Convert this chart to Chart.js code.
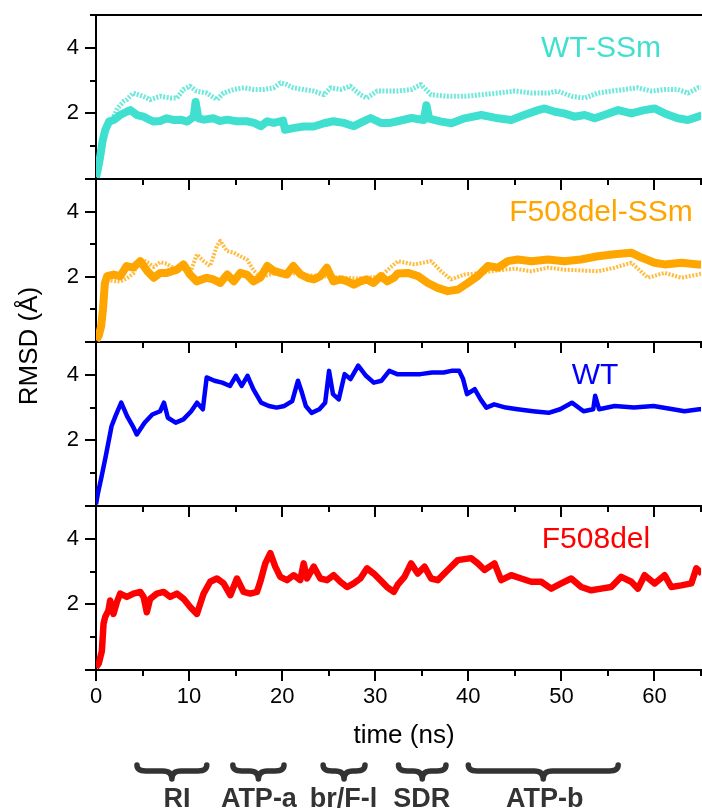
<!DOCTYPE html>
<html><head><meta charset="utf-8">
<script src="https://cdn.jsdelivr.net/npm/chart.js@4.4.1/dist/chart.umd.min.js"></script>
<style>
html,body{margin:0;padding:0;background:#fff;}
#wrap{position:relative;width:702px;height:809px;overflow:hidden;background:#fff;}
#wrap canvas{position:absolute;left:0;top:0;}
</style></head><body>
<div id="wrap">
<canvas id="c1" width="702" height="809"></canvas>
<canvas id="c2" width="702" height="809"></canvas>
<canvas id="c3" width="702" height="809"></canvas>
<canvas id="c4" width="702" height="809"></canvas>
</div>
<script>
// ---------- data ----------
const panelNames = ['WT-SSm', 'F508del-SSm', 'WT', 'F508del'];
const xLabelValues = [0, 10, 20, 30, 40, 50, 60];
const yLabelValues = [2, 4];
const xTitle = 'time (ns)';
const yTitle = 'RMSD (Å)';
const regionNames = ['RI', 'ATP-a', 'br/F-l', 'SDR', 'ATP-b'];
const regionStart = [4.4, 14.7, 24.4, 32.5, 40.0];
const regionEnd = [11.9, 20.2, 28.9, 37.6, 56.1];
const regionLabelAt = [8.7, 17.5, 26.6, 35.0, 48.2];

// WT-SSm, lower (solid) trace
const wtssmLowT = [0,0.2,0.4,0.7,1.0,1.4,1.9,2.6,3.3,3.7,4.4,5.1,5.8,6.2,6.9,7.6,8.3,9.1,9.8,10.5,10.7,11.0,11.6,12.6,13.3,14.1,15.1,16.2,17.0,17.7,18.4,19.1,19.8,20.1,20.3,21.2,22.3,23.4,24.5,25.5,26.6,27.7,28.4,29.5,30.6,31.6,32.4,33.9,35.2,35.5,35.8,37.1,38.2,39.6,41.4,43.2,44.6,46.0,47.5,48.2,49.3,50.3,51.4,52.5,53.6,54.6,56.1,57.5,58.9,60.0,61.1,62.5,63.6,64.7,65.1];
const wtssmLowV = [0.05,0.3,0.6,1.15,1.5,1.75,1.8,1.95,2.05,2.1,1.95,1.9,1.8,1.75,1.77,1.85,1.8,1.81,1.75,1.9,2.35,1.85,1.81,1.85,1.77,1.81,1.76,1.76,1.71,1.61,1.76,1.71,1.76,1.78,1.5,1.55,1.6,1.6,1.7,1.76,1.71,1.61,1.71,1.86,1.71,1.71,1.76,1.86,1.8,2.25,1.84,1.75,1.7,1.85,1.95,1.85,1.8,1.95,2.1,2.15,2.05,2.0,1.9,1.95,1.85,1.95,2.1,2.0,2.1,2.15,2.0,1.85,1.8,1.9,1.95];
// WT-SSm, upper (dotted) trace
const wtssmUpT = [1.9,2.3,3.0,3.3,4.0,5.1,5.8,6.9,8.0,8.7,9.4,10.1,10.8,11.9,13.0,13.7,14.8,15.9,16.9,18.0,19.1,19.8,20.5,21.2,22.3,23.4,24.5,25.2,26.3,27.3,28.4,29.1,30.2,31.3,32.4,33.9,34.9,36.0,37.8,39.6,41.4,43.2,45.0,46.8,48.6,49.6,51.1,52.5,53.9,55.4,56.8,58.2,59.7,61.1,62.5,63.6,64.7,65.1];
const wtssmUpV = [1.9,2.15,2.37,2.42,2.62,2.52,2.42,2.52,2.47,2.47,2.73,2.83,2.68,2.62,2.42,2.62,2.73,2.78,2.73,2.73,2.78,2.93,2.88,2.78,2.73,2.68,2.57,2.78,2.73,2.83,2.57,2.47,2.68,2.68,2.68,2.73,2.88,2.57,2.52,2.52,2.57,2.62,2.68,2.62,2.62,2.68,2.52,2.47,2.62,2.68,2.73,2.78,2.68,2.73,2.73,2.62,2.78,2.78];

// F508del-SSm, main (solid) trace
const f508ssmT = [0,0.3,0.55,0.75,0.95,1.2,1.9,2.6,3.3,4.0,4.75,5.5,6.2,6.9,7.6,8.7,9.4,10.1,10.8,11.9,12.6,13.35,14.1,14.8,15.5,16.2,16.9,17.65,18.4,19.1,19.8,20.5,21.2,22.0,22.7,23.4,24.1,24.8,25.5,26.3,27.0,27.7,28.4,29.1,29.8,30.6,31.3,32.0,32.4,33.5,34.6,35.65,36.7,37.8,38.9,39.95,41.0,42.1,43.2,44.25,45.3,46.8,48.55,50.3,52.1,53.9,55.7,57.5,58.6,60.0,61.1,62.9,64.7,65.1];
const f508ssmV = [0.05,0.2,0.48,1.0,1.8,2.02,2.07,2.02,2.33,2.28,2.48,2.18,1.97,2.12,2.12,2.22,2.38,2.07,1.86,1.97,1.92,1.81,2.07,1.86,2.12,2.07,1.86,1.97,2.33,2.18,2.12,2.07,2.33,2.07,1.97,1.92,2.02,2.28,1.86,1.92,1.86,1.76,1.86,1.92,1.81,2.02,1.86,1.97,2.1,2.12,2.02,1.81,1.66,1.56,1.61,1.81,2.02,2.33,2.28,2.48,2.53,2.48,2.53,2.48,2.53,2.63,2.69,2.74,2.59,2.43,2.38,2.43,2.38,2.38];
// F508del-SSm, second (dotted) trace
const f508ssm2T = [1.2,2.6,3.3,4.0,4.75,5.5,6.2,6.9,7.6,8.7,9.4,10.1,10.84,11.56,12.27,12.99,13.35,14.07,14.78,15.5,16.22,16.93,17.65,20.0,22.7,25.0,28.0,30.5,31.3,32.42,34.21,36.0,37.08,38.15,39.59,41.38,43.2,45.0,46.76,48.55,50.34,53.93,55.72,57.51,59.3,61.09,62.89,64.68,65.1];
const f508ssm2V = [1.9,1.85,1.95,2.1,2.55,2.45,2.3,2.45,2.4,2.2,2.3,2.1,2.69,2.48,2.33,2.95,3.1,2.79,2.74,2.63,2.53,2.2,2.0,2.15,2.05,2.0,1.95,2.0,2.2,2.48,2.38,2.48,2.17,1.92,2.07,2.12,2.2,2.25,2.17,2.28,2.22,2.17,2.28,2.43,1.97,2.12,1.97,2.07,2.1];

// WT
const wtT = [0,0.21,0.6,1.04,1.67,2.09,2.71,3.34,3.96,4.38,5.22,6.05,6.89,7.3,7.72,8.56,9.39,10.23,10.85,11.48,11.89,12.73,13.56,14.4,15.03,15.65,16.28,16.9,17.74,18.57,19.41,20.24,21.08,21.7,22.12,22.54,23.16,24.0,24.62,25.04,25.46,26.08,26.71,27.34,28.17,29.01,29.84,30.68,31.51,32.35,33.6,34.85,36.1,37.35,38.19,39.02,39.44,39.86,40.69,41.32,41.94,42.78,44.03,45.28,46.95,48.62,49.87,51.13,52.38,53.42,53.63,54.05,55.72,57.8,59.89,61.98,63.23,64.82,65.1];
const wtV = [0.05,0.39,0.9,1.51,2.43,2.74,3.15,2.74,2.43,2.18,2.54,2.79,2.89,3.15,2.69,2.54,2.64,2.89,3.15,2.95,3.92,3.82,3.76,3.66,3.97,3.66,3.97,3.56,3.15,3.05,3.0,3.05,3.2,3.82,3.46,3.05,2.84,2.95,3.15,4.12,3.41,3.25,4.02,3.87,4.28,3.97,3.76,3.82,4.12,4.02,4.02,4.02,4.07,4.07,4.12,4.12,3.87,3.41,3.56,3.25,3.0,3.1,3.0,2.95,2.89,2.84,2.95,3.15,2.89,2.95,3.36,2.95,3.05,3.0,3.05,2.95,2.89,2.95,2.95];

// F508del
const f508T = [0,0.3,0.63,0.81,0.98,1.34,1.52,1.88,2.24,2.6,3.31,4.03,4.75,5.11,5.46,5.82,6.54,7.26,7.97,8.69,9.41,10.12,10.84,11.56,12.27,12.99,13.71,14.43,15.14,15.86,16.58,17.29,17.65,18.19,18.73,19.26,19.8,20.52,21.24,21.95,22.31,22.67,23.39,24.1,24.82,25.54,26.25,26.97,27.69,28.4,29.12,29.84,30.55,31.27,31.99,32.42,33.14,33.85,34.57,35.29,36.0,36.72,37.8,38.87,40.3,41.02,41.74,42.81,43.53,44.61,45.68,46.76,47.83,48.91,49.98,51.06,52.13,53.21,54.28,55.36,56.43,57.51,58.23,58.94,60.02,61.09,61.81,62.89,63.96,64.5,65.1];
const f508V = [0.08,0.2,0.58,1.41,1.61,1.82,2.12,1.71,2.07,2.33,2.23,2.33,2.38,2.23,1.76,2.17,2.33,2.38,2.23,2.33,2.17,1.92,1.71,2.33,2.69,2.79,2.64,2.28,2.79,2.38,2.33,2.38,2.69,3.25,3.56,3.15,2.84,2.74,2.89,2.74,3.25,2.79,3.15,2.79,2.74,2.89,2.69,2.53,2.64,2.79,3.1,2.94,2.74,2.53,2.38,2.6,2.84,3.25,2.94,3.15,2.79,2.74,3.05,3.35,3.41,3.25,3.05,3.25,2.74,2.89,2.79,2.69,2.69,2.48,2.64,2.79,2.53,2.43,2.48,2.53,2.84,2.69,2.48,2.89,2.64,2.89,2.53,2.58,2.64,3.1,2.94];

// ---------- layout / style ----------
const FONT = "'Liberation Sans', Arial, Helvetica, sans-serif";
const H = 809;
const PLOT_LEFT = 96;
const panelTops = [15, 179, 342, 506];
const panelBottoms = [179, 342, 506, 670];
const panelColors = ['#40E0D0', '#FFA500', '#0000FF', '#FF0000'];
const labelPos = [[601, 57], [601, 221], [595, 384], [596, 548]];

function mkPoints(t, v) { return t.map((x, i) => ({ x: x, y: v[i] })); }

const deco = {
  id: 'deco',
  afterDraw(chart, args, o) {
    const ctx = chart.ctx, a = chart.chartArea, xs = chart.scales.x, ys = chart.scales.y;
    ctx.save();
    ctx.strokeStyle = '#000';
    ctx.lineWidth = 2;
    ctx.beginPath();
    xs.ticks.forEach(tk => {
      const px = Math.round(xs.getPixelForValue(tk.value));
      const len = (tk.value % 10 === 0) ? 11 : 6;
      ctx.moveTo(px, a.bottom); ctx.lineTo(px, a.bottom + len);
    });
    ys.ticks.forEach(tk => {
      const py = Math.round(ys.getPixelForValue(tk.value));
      const len = (tk.value % 2 === 0) ? 11 : 6;
      ctx.moveTo(a.left, py); ctx.lineTo(a.left - len, py);
    });
    if (o.topBorder) {
      const ty = Math.round(a.top);
      ctx.moveTo(a.left, ty); ctx.lineTo(a.right + 3, ty);
    }
    ctx.stroke();

    // panel label
    ctx.fillStyle = o.color;
    ctx.font = '30px ' + FONT;
    ctx.textAlign = 'center';
    ctx.textBaseline = 'alphabetic';
    ctx.fillText(o.label, o.labelX, o.labelY);

    if (o.extras) {
      ctx.fillStyle = '#000';
      ctx.font = '26px ' + FONT;
      ctx.textAlign = 'center';
      ctx.textBaseline = 'middle';
      ctx.fillText(xTitle, 404, 736);
      ctx.save();
      ctx.translate(30, 346);
      ctx.rotate(-Math.PI / 2);
      ctx.fillText(yTitle, 0, 0);
      ctx.restore();

      ctx.strokeStyle = '#333';
      ctx.fillStyle = '#333';
      ctx.lineWidth = 5.5;
      ctx.lineCap = 'round';
      ctx.lineJoin = 'round';
      regionNames.forEach((nm, k) => {
        const x1 = xs.getPixelForValue(regionStart[k]);
        const x2 = xs.getPixelForValue(regionEnd[k]);
        const xm = (x1 + x2) / 2;
        const y0 = 765, y1 = 771, y2 = 779;
        const r = Math.min(9, (x2 - x1) / 4);
        ctx.beginPath();
        ctx.moveTo(x1, y0);
        ctx.quadraticCurveTo(x1, y1, x1 + r, y1);
        ctx.lineTo(xm - r, y1);
        ctx.quadraticCurveTo(xm, y1, xm, y2);
        ctx.quadraticCurveTo(xm, y1, xm + r, y1);
        ctx.lineTo(x2 - r, y1);
        ctx.quadraticCurveTo(x2, y1, x2, y0);
        ctx.stroke();
        ctx.font = 'bold 27px ' + FONT;
        ctx.textBaseline = 'alphabetic';
        ctx.fillText(nm, xs.getPixelForValue(regionLabelAt[k]), 807);
      });
    }
    ctx.restore();
  }
};

function makeChart(id, i, datasets) {
  const top = panelTops[i], bottom = panelBottoms[i];
  return new Chart(document.getElementById(id), {
    type: 'line',
    data: { datasets: datasets },
    options: {
      responsive: false,
      animation: false,
      devicePixelRatio: 1,
      events: [],
      layout: { padding: { top: top, left: 0, right: 1, bottom: 0 } },
      elements: { point: { radius: 0 }, line: { tension: 0, borderJoinStyle: 'round' } },
      plugins: {
        legend: { display: false },
        tooltip: { enabled: false },
        deco: {
          label: panelNames[i], color: panelColors[i],
          labelX: labelPos[i][0], labelY: labelPos[i][1],
          topBorder: i === 0, extras: i === 3
        }
      },
      scales: {
        x: {
          type: 'linear', min: 0, max: 65,
          afterFit: s => { s.height = H - bottom; s.paddingLeft = 0; s.paddingRight = 0; },
          grid: { display: false, drawTicks: false },
          border: { display: true, color: '#000', width: 2 },
          ticks: {
            display: i === 3, stepSize: 5, autoSkip: false, maxRotation: 0, padding: 14,
            color: '#000', font: { family: FONT, size: 22 },
            callback: v => xLabelValues.includes(v) ? String(v) : ''
          }
        },
        y: {
          type: 'linear', min: 0, max: 5,
          afterFit: s => { s.width = PLOT_LEFT; s.paddingTop = 0; s.paddingBottom = 0; },
          grid: { display: false, drawTicks: false },
          border: { display: true, color: '#000', width: 2 },
          ticks: {
            stepSize: 1, autoSkip: false, padding: 17,
            color: '#000', font: { family: FONT, size: 22 },
            callback: v => yLabelValues.includes(v) ? String(v) : ''
          }
        }
      }
    },
    plugins: [deco]
  });
}

makeChart('c1', 0, [
  { data: mkPoints(wtssmUpT, wtssmUpV), borderColor: 'rgba(64,224,208,0.75)', borderWidth: 5, borderDash: [2, 1.5] },
  { data: mkPoints(wtssmLowT, wtssmLowV), borderColor: '#40E0D0', borderWidth: 8 }
]);
makeChart('c2', 1, [
  { data: mkPoints(f508ssm2T, f508ssm2V), borderColor: 'rgba(255,165,0,0.75)', borderWidth: 4, borderDash: [2, 1.5] },
  { data: mkPoints(f508ssmT, f508ssmV), borderColor: '#FFA500', borderWidth: 8 }
]);
makeChart('c3', 2, [
  { data: mkPoints(wtT, wtV), borderColor: '#0000FF', borderWidth: 4.5 }
]);
makeChart('c4', 3, [
  { data: mkPoints(f508T, f508V), borderColor: '#FF0000', borderWidth: 6.5 }
]);
</script>
</body></html>
